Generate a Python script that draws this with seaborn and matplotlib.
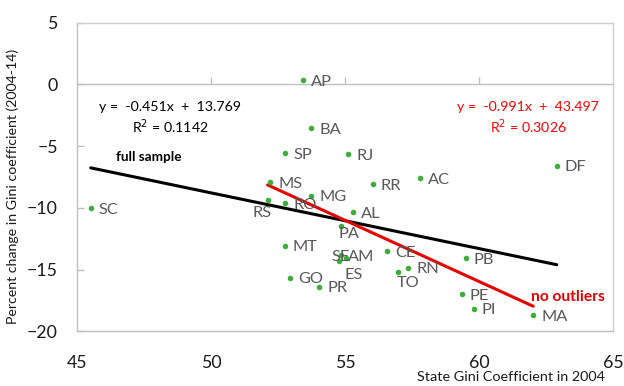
import matplotlib
matplotlib.use("Agg")
import matplotlib.pyplot as plt
import seaborn as sns
import numpy as np
import pandas as pd

# Brazilian states: Gini coefficient in 2004 vs. percent change 2004-14
states = ["AC", "AL", "AM", "AP", "BA", "CE", "DF", "ES", "GO", "MA", "MG", "MS", "MT", "PA",
          "PB", "PE", "PI", "PR", "RJ", "RN", "RO", "RR", "RS", "SC", "SE", "SP", "TO"]
gini_2004 = [57.80, 55.28, 55.01, 53.43, 53.73, 56.57, 62.89, 54.76, 52.93, 62.01, 53.73, 52.19,
             52.74, 54.83, 59.49, 59.35, 59.80, 54.02, 55.11, 57.35, 52.75, 56.03, 52.10, 45.50,
             54.85, 52.76, 56.96]
gini_change = [-7.61, -10.36, -14.09, 0.35, -3.56, -13.50, -6.59, -14.31, -15.63, -18.68, -8.99,
               -7.91, -13.07, -11.45, -14.09, -17.00, -18.14, -16.39, -5.67, -14.82, -9.61, -8.07,
               -9.39, -10.04, -13.82, -5.56, -15.22]
outliers = ["SC", "DF"]

# Linear trend lines (slope, intercept, R squared)
full_fit = (-0.451, 13.769, 0.1142)
trim_fit = (-0.991, 43.497, 0.3026)

x_ticks = [45, 50, 55, 60, 65]
y_ticks = [-20, -15, -10, -5, 0, 5]

df = pd.DataFrame({"state": states, "gini": gini_2004, "change": gini_change})
trim = df[~df["state"].isin(outliers)]


def trend_frame(sub, fit):
    xs = np.array([sub["gini"].min(), sub["gini"].max()])
    return pd.DataFrame({"gini": xs, "change": fit[0] * xs + fit[1]})


def equation(fit):
    return f"y =  {fit[0]:.3f}x  +  {fit[1]:.3f}"


sns.set_theme(style="white")
plt.rcParams["font.family"] = ["Lato", "DejaVu Sans"]

fig = plt.figure(figsize=(6.24, 3.86), dpi=100)
ax = fig.add_axes([0.1239, 0.1412, 0.859, 0.8])

sns.lineplot(data=trend_frame(df, full_fit), x="gini", y="change", ax=ax,
             color="black", linewidth=2.2, zorder=2)
sns.lineplot(data=trend_frame(trim, trim_fit), x="gini", y="change", ax=ax,
             color="#E60000", linewidth=2.2, zorder=3)
sns.scatterplot(data=df, x="gini", y="change", ax=ax, color="#3DAE3A",
                s=16, linewidth=0, zorder=4)

# State labels: right of the point by default, moved where points crowd
label_offsets = {
    "RS": (4, -13, "right"),
    "PA": (-2, -8.5, "left"),
    "ES": (6, -14, "left"),
    "TO": (-1, -10.5, "left"),
    "SE": (-10, -1.5, "left"),
    "AM": (2, 1.5, "left"),
}
for st, gx, gy in zip(states, gini_2004, gini_change):
    dx, dy, ha = label_offsets.get(st, (8, -1.5, "left"))
    ax.annotate(st, (gx, gy), xytext=(dx, dy), textcoords="offset pixels",
                ha=ha, va="center", fontsize=11.8, color="#595959", zorder=5)

# Equations and sample labels
ax.text(48.44, -1.84, equation(full_fit), ha="center", va="center",
        fontsize=10.2, color="black")
ax.text(48.46, -3.38, f"R$^2$ = {full_fit[2]:.4f}", ha="center", va="center",
        fontsize=10.2, color="black")
ax.text(61.82, -1.84, equation(trim_fit), ha="center", va="center",
        fontsize=10.2, color="#FF0000")
ax.text(61.84, -3.46, f"R$^2$ = {trim_fit[2]:.4f}", ha="center", va="center",
        fontsize=10.2, color="#FF0000")
ax.text(47.66, -5.89, "full sample", ha="center", va="center", fontsize=9.8,
        fontweight="bold", color="black")
ax.text(63.31, -17.21, "no outliers", ha="center", va="center", fontsize=11.2,
        fontweight="bold", color="#E60000")

ax.set_xlim(x_ticks[0], x_ticks[-1])
ax.set_ylim(y_ticks[0], y_ticks[-1])
ax.set_xticks(x_ticks)
ax.set_yticks(y_ticks)
ax.tick_params(axis="x", length=0, pad=17, labelsize=12.8, labelcolor="#1a1a1a")
ax.tick_params(axis="y", direction="in", length=5, width=1, color="#BFBFBF",
               pad=14, labelsize=12.8, labelcolor="#1a1a1a", left=True)

for side in ["top", "right"]:
    ax.spines[side].set_color("#D0D0D0")
for side in ["left", "bottom"]:
    ax.spines[side].set_color("#BFBFBF")
for sp in ax.spines.values():
    sp.set_linewidth(1.0)

# Horizontal axis line crossing at zero, with its own tick marks
zero_loc = (0 - y_ticks[0]) / (y_ticks[-1] - y_ticks[0])
sec = ax.secondary_xaxis(zero_loc)
sec.set_xticks(x_ticks[1:-1])
sec.set_xticklabels([])
sec.tick_params(direction="out", length=5, width=1, color="#BFBFBF")
sec.spines["top"].set_color("#BFBFBF")
sec.spines["top"].set_linewidth(1.0)

ax.set_xlabel("State Gini Coefficient in 2004", fontsize=10.4, color="#1a1a1a")
ax.xaxis.set_label_coords(0.81, -0.128)
ax.set_ylabel("Percent change in Gini coefficient (2004-14)", fontsize=10.2, color="#1a1a1a")
ax.yaxis.set_label_coords(-0.108, 0.47)

fig.savefig("out.png", dpi=100)
